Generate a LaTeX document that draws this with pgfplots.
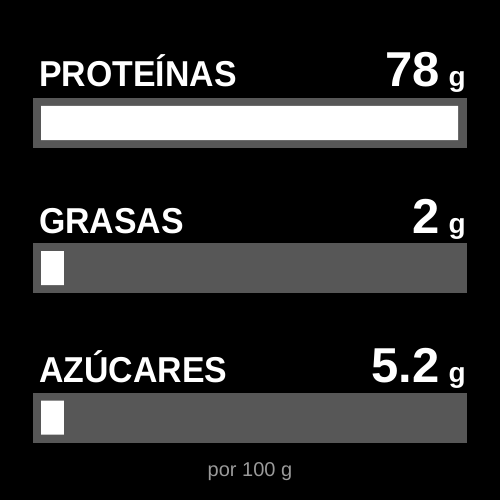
\documentclass[border=0pt]{standalone}
\usepackage{pgfplots}
\pgfplotsset{compat=1.18}
\usepackage{fontspec}
\setmainfont{Liberation Sans}
\definecolor{track}{HTML}{575757}
\definecolor{note}{HTML}{9A9A9A}
\newcommand\lbl{\fontsize{36pt}{40pt}\selectfont\bfseries}
\newcommand\num{\fontsize{49pt}{52pt}\selectfont\bfseries}
\newcommand\unit{\fontsize{28pt}{30pt}\selectfont\bfseries}
\newcommand\val[1]{{\num #1}\hspace{9pt}{\unit g}}
\newcommand\tag[1]{\scalebox{0.94}[1]{\lbl #1}}
\begin{document}
\begin{tikzpicture}
\fill[black] (0,0) rectangle (500pt,500pt);
\path[use as bounding box] (0,0) rectangle (500pt,500pt);
\begin{axis}[
  at={(41pt,82.5pt)}, anchor=south west,
  scale only axis, width=417pt, height=294.5pt,
  xmin=0, xmax=78, ymin=0, ymax=2, y dir=reverse,
  hide axis, clip=false,
  xbar, bar width=34pt, bar shift=0pt,
]
% grey tracks behind the bars
\fill[track] ([yshift=25pt]axis cs:-1.5,0) rectangle ([yshift=-25pt]axis cs:79.7,0);
\fill[track] ([yshift=25pt]axis cs:-1.5,0.985) rectangle ([yshift=-25pt]axis cs:79.7,0.985);
\fill[track] ([yshift=25pt]axis cs:-1.5,2) rectangle ([yshift=-25pt]axis cs:79.7,2);
\addplot[fill=white, draw=none] coordinates {(78,0) (4.3,0.985) (4.3,2)};
% titles and values
\node[anchor=base west, inner sep=0, text=white] at ([xshift=-2pt,yshift=36pt]axis cs:0,0) {\tag{PROTEÍNAS}};
\node[anchor=base west, inner sep=0, text=white] at ([xshift=-2pt,yshift=35pt]axis cs:0,0.985) {\tag{GRASAS}};
\node[anchor=base west, inner sep=0, text=white] at ([xshift=-2pt,yshift=35pt]axis cs:0,2) {\tag{AZÚCARES}};
\node[anchor=base east, inner sep=0, text=white] at ([yshift=36pt]axis cs:79.5,0) {\val{78}};
\node[anchor=base east, inner sep=0, text=white] at ([yshift=35pt]axis cs:79.5,0.985) {\val{2}};
\node[anchor=base east, inner sep=0, text=white] at ([yshift=35pt]axis cs:79.5,2) {\val{5.2}};
\end{axis}
\node[anchor=base, inner sep=0, text=note, font=\fontsize{20pt}{22pt}\selectfont] at (250pt,23pt) {por 100 g};
\end{tikzpicture}
\end{document}
